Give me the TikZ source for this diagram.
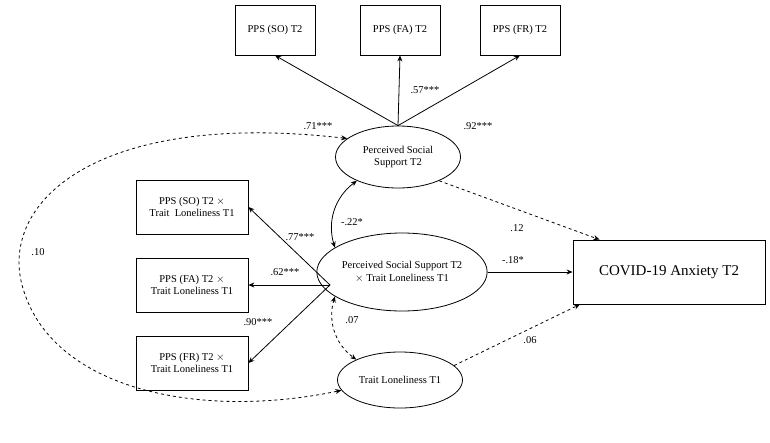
\documentclass[tikz,border=0pt]{standalone}
\usepackage{fontspec}
\setmainfont{Liberation Serif}
\usetikzlibrary{shapes.geometric,arrows.meta}
\begin{document}
\begin{tikzpicture}[x=1pt,y=-1pt,
 box/.style={draw,thick,minimum width=80pt,minimum height=50pt,align=center,font=\fontsize{10.5}{12.5}\selectfont},
 lbox/.style={draw,thick,minimum width=112pt,minimum height=54pt,align=center,font=\fontsize{10.5}{12.5}\selectfont},
 ell/.style={draw,thick,ellipse,align=center,font=\fontsize{10.5}{12.5}\selectfont,inner sep=0pt},
 arr/.style={thick,-{Stealth[length=6pt,width=5pt]}},
 lab/.style={font=\fontsize{10.5}{12.5}\selectfont}]
\useasboundingbox (0,0) rectangle (770,442);
\node[box] (so) at (275,30) {PPS (SO) T2};
\node[box] (fa) at (400,30) {PPS (FA) T2};
\node[box] (fr) at (520,30) {PPS (FR) T2};
\node[ell,minimum width=125pt,minimum height=62pt] (pss) at (398,157) {Perceived Social\\Support T2};
\node[ell,minimum width=150pt,minimum height=78pt] (int) at (402,272) {Perceived Social Support T2\\$\times$ Trait Loneliness T1};
\node[ell,minimum width=125pt,minimum height=56pt] (tl) at (400,380) {Trait Loneliness T1};
\node[lbox] (l1) at (192,207) {PPS (SO) T2 $\times$\\Trait\ \ Loneliness T1};
\node[lbox] (l2) at (192,285) {PPS (FA) T2 $\times$\\Trait Loneliness T1};
\node[lbox] (l3) at (192,363) {PPS (FR) T2 $\times$\\Trait Loneliness T1};
\node[draw,thick,minimum width=192pt,minimum height=64pt,font=\fontsize{15}{18}\selectfont] (cov) at (669,272) {COVID-19 Anxiety T2};
\draw[arr] (pss.north) -- (so.south);
\draw[arr] (pss.north) -- (fa.south);
\draw[arr] (pss.north) -- (fr.south);
\node[lab] at (318,126) {.71***};
\node[lab] at (425,90) {.57***};
\node[lab] at (478,126) {.92***};
\coordinate (il) at (330,285);
\draw[arr] (il) -- (l1.east);
\draw[arr] (il) -- (l2.east);
\draw[arr] (il) -- (l3.east);
\node[lab] at (300,237) {.77***};
\node[lab] at (285,272) {.62***};
\node[lab] at (258,322) {.90***};
\draw[thick,{Stealth[length=6pt,width=5pt]}-{Stealth[length=6pt,width=5pt]}] (pss.210) to[bend right=35] (int.160);
\node[lab] at (352,222) {-.22*};
\draw[thick,dashed,{Stealth[length=6pt,width=5pt]}-{Stealth[length=6pt,width=5pt]}] (int.200) to[bend right=35] (tl.155);
\node[lab] at (352,320) {.07};
\draw[arr,dashed] (pss.330) -- (cov.155);
\node[lab] at (517,228) {.12};
\draw[arr] (int.east) -- (cov.west);
\node[lab] at (513,260) {-.18*};
\draw[arr,dashed] (tl.15) -- (cov.200);
\node[lab] at (530,340) {.06};
\draw[thick,dashed,{Stealth[length=6pt,width=5pt]}-{Stealth[length=6pt,width=5pt]}] (pss.160) .. controls (100,110) and (0,200) .. (22,285) .. controls (50,390) and (200,420) .. (tl.190);
\node[lab] at (38,252) {.10};
\end{tikzpicture}
\end{document}
